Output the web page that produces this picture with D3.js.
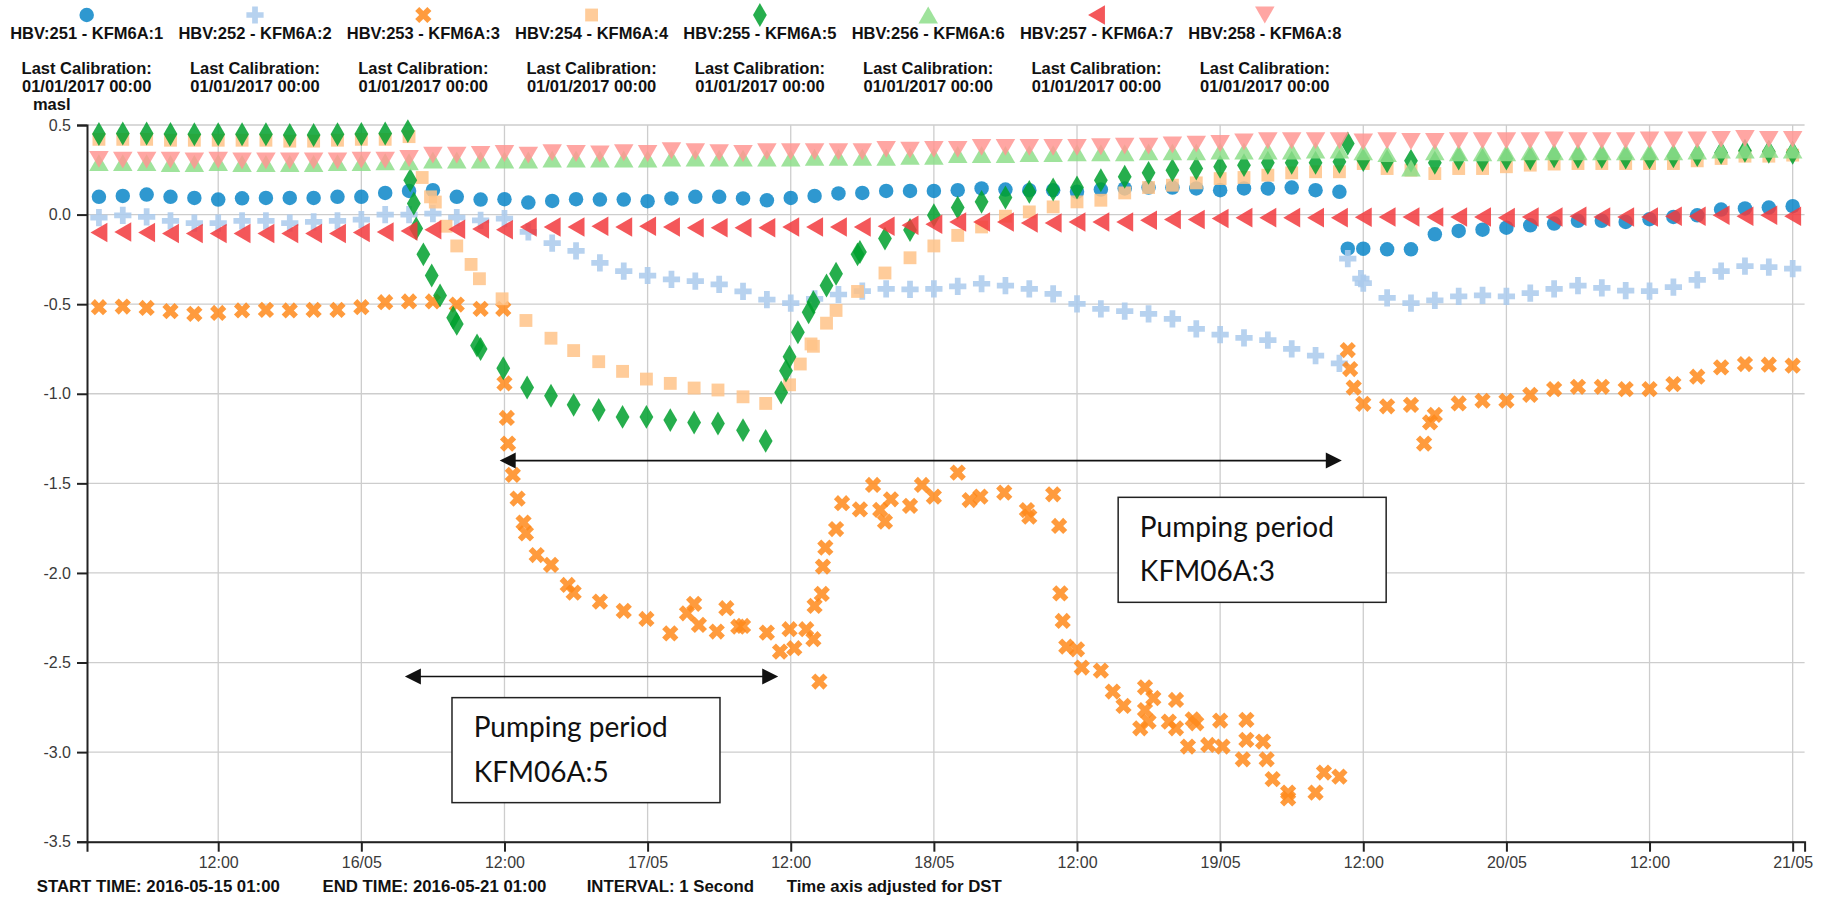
<!doctype html>
<html>
<head>
<script src="https://cdnjs.cloudflare.com/ajax/libs/d3/7.8.5/d3.min.js"></script>
<style>
  body { margin: 0; background: #fff; }
  svg { display: block; font-family: "Liberation Sans", Arial, sans-serif; }
  .grid line { stroke: #cdcdcd; stroke-width: 1.3; }
  .axis path, .axis line { stroke: #222; stroke-width: 2; }
  .axis text { fill: #3a3a3a; font-size: 16px; font-family: "Liberation Sans", Arial, sans-serif; }
  .legend text, .unit { font-weight: bold; font-size: 16.5px; fill: #111; }
  .footer text { font-weight: bold; font-size: 16.8px; fill: #111; }
  .note rect { fill: #fff; stroke: #222; stroke-width: 1.5; }
  .note text { font-family: Lato, "Open Sans", sans-serif; font-size: 28px; fill: #111; }
</style>
</head>
<body>
<svg width="1831" height="901"></svg>
<script>
// time axis: hours after the start time
const startTime = new Date(2016, 4, 15, 1, 0);
const endTime = new Date(2016, 4, 21, 1, 0);

const seriesNames = ["HBV:251 - KFM6A:1", "HBV:252 - KFM6A:2", "HBV:253 - KFM6A:3", "HBV:254 - KFM6A:4",
                     "HBV:255 - KFM6A:5", "HBV:256 - KFM6A:6", "HBV:257 - KFM6A:7", "HBV:258 - KFM6A:8"];
const calibration = "01/01/2017 00:00";
const yTicks = [-3.5, -3.0, -2.5, -2.0, -1.5, -1.0, -0.5, 0.0, 0.5];
const footer = ["START TIME: 2016-05-15 01:00", "END TIME: 2016-05-21 01:00", "INTERVAL: 1 Second", "Time axis adjusted for DST"];

// regular samples, every 2 hours
const hours = [1, 3, 5, 7, 9, 11, 13, 15, 17, 19, 21, 23,
               25, 27, 29, 31, 33, 35, 37, 39, 41, 43, 45, 47,
               49, 51, 53, 55, 57, 59, 61, 63, 65, 67, 69, 71,
               73, 75, 77, 79, 81, 83, 85, 87, 89, 91, 93, 95,
               97, 99, 101, 103, 105, 107, 109, 111, 113, 115, 117, 119,
               121, 123, 125, 127, 129, 131, 133, 135, 137, 139, 141, 143];

const kfm1 = [0.099, 0.104, 0.112, 0.099, 0.093, 0.084, 0.091, 0.093, 0.093, 0.093, 0.099, 0.099,
              0.121, 0.132, 0.136, 0.099, 0.084, 0.086, 0.067, 0.076, 0.086, 0.084, 0.084, 0.075,
              0.090, 0.099, 0.099, 0.090, 0.080, 0.093, 0.104, 0.118, 0.121, 0.132, 0.132, 0.132,
              0.136, 0.146, 0.140, 0.136, 0.136, 0.127, 0.140, 0.146, 0.151, 0.151, 0.146, 0.136,
              0.146, 0.146, 0.151, 0.136, 0.127, -0.190, -0.194, -0.194, -0.110, -0.091, -0.084, -0.073,
              -0.060, -0.050, -0.035, -0.035, -0.041, -0.026, -0.013, -0.004, 0.028, 0.034, 0.039, 0.047];
const kfm1Extra = [[105.7, -0.190]];

const kfm2 = [-0.017, -0.004, -0.013, -0.035, -0.047, -0.047, -0.035, -0.035, -0.047, -0.041, -0.035, -0.028,
              0.000, 0.000, 0.006, -0.017, -0.032, -0.022, -0.097, -0.159, -0.203, -0.269, -0.315, -0.340,
              -0.362, -0.371, -0.390, -0.429, -0.474, -0.494, -0.470, -0.446, -0.427, -0.414, -0.418, -0.414,
              -0.401, -0.386, -0.396, -0.414, -0.442, -0.498, -0.526, -0.539, -0.554, -0.582, -0.638, -0.670,
              -0.688, -0.700, -0.750, -0.787, -0.830, -0.382, -0.465, -0.494, -0.479, -0.457, -0.451, -0.457,
              -0.438, -0.414, -0.396, -0.409, -0.424, -0.427, -0.405, -0.364, -0.315, -0.287, -0.293, -0.302];
const kfm2Extra = [[105.7, -0.246], [106.8, -0.358]];

const kfm3 = [-0.517, -0.513, -0.521, -0.539, -0.554, -0.549, -0.535, -0.532, -0.535, -0.532, -0.532, -0.517,
              -0.489, -0.485, -0.485, -0.502, -0.526, null, null, null, null, null, null, null,
              null, null, null, null, null, null, null, null, null, null, null, null,
              null, null, null, null, null, null, null, null, null, null, null, null,
              null, null, null, null, null, -1.056, -1.070, -1.062, -1.118, -1.054, -1.039, -1.039,
              -1.006, -0.974, -0.961, -0.961, -0.974, -0.974, -0.946, -0.905, -0.853, -0.834, -0.838, -0.843];
// denser readings during the pumping tests
const kfm3Extra = [[34.9, -0.526], [35.0, -0.942], [35.2, -1.135], [35.3, -1.278], [35.7, -1.453], [36.1, -1.585],
  [36.6, -1.719], [36.8, -1.779], [37.7, -1.900], [38.9, -1.955], [40.3, -2.067], [40.8, -2.110], [43.0, -2.160],
  [45.0, -2.212], [46.9, -2.257], [48.9, -2.337], [50.3, -2.225], [50.9, -2.173], [51.3, -2.290], [52.8, -2.327],
  [53.6, -2.197], [54.6, -2.300], [55.0, -2.296], [57.0, -2.333], [58.1, -2.439], [58.9, -2.314], [59.3, -2.420],
  [60.3, -2.314], [60.9, -2.370], [61.0, -2.184], [61.4, -2.606], [61.6, -2.117], [61.7, -1.965], [61.9, -1.859],
  [62.8, -1.755], [63.3, -1.611], [64.8, -1.645], [65.9, -1.509], [66.5, -1.648], [66.9, -1.714], [67.4, -1.589],
  [69.0, -1.626], [70.0, -1.509], [71.0, -1.574], [73.0, -1.440], [74.0, -1.593], [74.9, -1.574], [76.9, -1.552],
  [78.8, -1.649], [79.0, -1.686], [81.0, -1.561], [81.5, -1.738], [81.6, -2.114], [81.8, -2.268], [82.1, -2.411],
  [83.0, -2.426], [83.4, -2.528], [85.0, -2.545], [86.0, -2.662], [86.9, -2.742], [88.3, -2.867], [88.7, -2.638],
  [88.7, -2.765], [89.0, -2.830], [89.4, -2.699], [90.7, -2.830], [91.3, -2.867], [91.3, -2.709], [92.3, -2.969],
  [92.7, -2.817], [93.0, -2.839], [94.0, -2.960], [95.0, -2.824], [95.2, -2.969], [96.9, -3.040], [97.2, -2.820],
  [97.2, -2.932], [98.6, -2.941], [98.9, -3.040], [99.4, -3.151], [100.7, -3.226], [100.7, -3.258], [103.0, -3.226],
  [103.7, -3.114], [105.0, -3.137], [105.7, -0.756], [105.9, -0.862], [106.2, -0.966], [112.1, -1.278], [112.6, -1.160]];

const kfm4 = [0.420, 0.420, 0.420, 0.415, 0.415, 0.415, 0.415, 0.415, 0.410, 0.410, 0.415, 0.420,
              0.420, 0.435, null, null, null, null, null, null, null, null, null, null,
              null, null, null, null, null, null, null, null, null, null, null, -0.175,
              -0.116, -0.069, -0.009, 0.015, 0.043, 0.071, 0.080, 0.121, 0.151, 0.164, 0.177, 0.201,
              0.207, 0.220, 0.233, 0.239, 0.239, 0.285, 0.257, 0.248, 0.229, 0.257, 0.257, 0.267,
              0.276, 0.282, 0.285, 0.285, 0.285, 0.285, 0.285, 0.300, 0.313, 0.326, 0.326, 0.332];
const kfm4Extra = [[28.1, 0.207], [28.8, 0.099], [29.2, 0.070], [30.1, -0.065], [31.0, -0.175], [32.2, -0.278],
  [32.9, -0.358], [34.8, -0.470], [36.8, -0.591], [38.9, -0.690], [40.8, -0.759], [42.9, -0.821], [44.9, -0.875],
  [46.9, -0.918], [48.9, -0.942], [50.9, -0.968], [52.9, -0.979], [55.0, -1.017], [56.9, -1.054], [58.9, -0.950],
  [59.8, -0.834], [60.7, -0.722], [60.9, -0.735], [62.0, -0.606], [62.8, -0.535], [64.6, -0.429], [66.9, -0.326],
  [69.0, -0.241]];

const kfm5 = [0.450, 0.453, 0.453, 0.450, 0.448, 0.448, 0.448, 0.448, 0.444, 0.444, 0.448, 0.450,
              0.453, null, null, null, null, null, null, null, null, null, null, null,
              null, null, null, null, null, null, null, null, null, null, null, -0.004,
              0.039, 0.071, 0.095, 0.127, 0.140, 0.151, 0.192, 0.211, 0.233, 0.248, 0.257, 0.267,
              0.276, 0.289, 0.289, 0.289, 0.295, 0.304, 0.298, 0.300, 0.289, 0.313, 0.304, 0.313,
              0.313, 0.326, 0.323, 0.323, 0.319, 0.319, 0.326, 0.332, 0.345, 0.356, 0.351, 0.345];
const kfm5Extra = [[26.9, 0.466], [27.1, 0.192], [27.4, 0.062], [27.6, -0.078], [28.2, -0.222], [28.9, -0.340],
  [29.6, -0.451], [30.7, -0.576], [31.0, -0.610], [32.7, -0.731], [33.0, -0.750], [34.9, -0.858], [36.9, -0.965],
  [38.9, -1.011], [40.8, -1.062], [42.9, -1.091], [44.9, -1.129], [46.9, -1.129], [48.9, -1.147], [50.9, -1.160],
  [52.9, -1.166], [55.0, -1.203], [56.9, -1.263], [58.2, -0.993], [58.6, -0.871], [58.9, -0.793], [59.6, -0.657],
  [60.5, -0.545], [60.9, -0.489], [62.0, -0.396], [62.8, -0.330], [64.6, -0.222], [64.8, -0.209], [66.9, -0.134],
  [69.0, -0.086], [105.7, 0.397]];

const kfm6 = [0.290, 0.290, 0.290, 0.285, 0.285, 0.290, 0.285, 0.285, 0.285, 0.285, 0.290, 0.290,
              0.295, 0.295, 0.305, 0.305, 0.305, 0.305, 0.305, 0.310, 0.310, 0.310, 0.310, 0.310,
              0.315, 0.315, 0.315, 0.315, 0.315, 0.315, 0.320, 0.320, 0.320, 0.320, 0.325, 0.325,
              0.335, 0.335, 0.335, 0.340, 0.340, 0.345, 0.345, 0.345, 0.350, 0.350, 0.350, 0.355,
              0.355, 0.355, 0.355, 0.360, 0.360, 0.350, 0.340, 0.260, 0.350, 0.345, 0.345, 0.345,
              0.350, 0.350, 0.350, 0.350, 0.350, 0.350, 0.350, 0.355, 0.360, 0.360, 0.365, 0.360];

const kfm7 = [-0.100, -0.097, -0.100, -0.106, -0.106, -0.106, -0.106, -0.106, -0.106, -0.106, -0.106, -0.100,
              -0.097, -0.091, -0.084, -0.082, -0.080, -0.084, -0.069, -0.069, -0.069, -0.065, -0.069, -0.065,
              -0.069, -0.073, -0.073, -0.073, -0.073, -0.069, -0.069, -0.069, -0.069, -0.065, -0.060, -0.054,
              -0.041, -0.041, -0.041, -0.047, -0.047, -0.041, -0.041, -0.041, -0.032, -0.028, -0.028, -0.022,
              -0.017, -0.017, -0.017, -0.017, -0.017, -0.015, -0.013, -0.013, -0.013, -0.013, -0.013, -0.017,
              -0.013, -0.013, -0.009, -0.013, -0.013, -0.013, -0.009, -0.009, -0.004, -0.009, -0.004, -0.009];

const kfm8 = [0.308, 0.304, 0.304, 0.304, 0.300, 0.304, 0.300, 0.300, 0.300, 0.300, 0.300, 0.304,
              0.304, 0.313, 0.332, 0.332, 0.336, 0.341, 0.332, 0.345, 0.341, 0.338, 0.345, 0.341,
              0.356, 0.351, 0.345, 0.341, 0.351, 0.351, 0.351, 0.351, 0.351, 0.364, 0.360, 0.364,
              0.364, 0.375, 0.375, 0.375, 0.375, 0.375, 0.379, 0.382, 0.382, 0.388, 0.393, 0.397,
              0.406, 0.412, 0.412, 0.412, 0.412, 0.406, 0.412, 0.408, 0.408, 0.412, 0.412, 0.412,
              0.412, 0.416, 0.412, 0.412, 0.412, 0.416, 0.416, 0.416, 0.420, 0.425, 0.420, 0.420];

// pumping period annotations (hours after start, masl)
const arrows = [{ from: 34.6, to: 105.2, level: -1.373 }, { from: 26.65, to: 57.95, level: -2.578 }];
const notes = [{ at: 86.45, top: -1.578, lines: ["Pumping period", "KFM06A:3"] },
               { at: 30.6, top: -2.696, lines: ["Pumping period", "KFM06A:5"] }];

const values = [kfm1, kfm2, kfm3, kfm4, kfm5, kfm6, kfm7, kfm8];
const extras = [kfm1Extra, kfm2Extra, kfm3Extra, kfm4Extra, kfm5Extra, [], [], []];
const shapes = ["circle", "cross", "x", "square", "diamond", "triangle-up", "triangle-left", "triangle-down"];
const colors = ["#0a86c8", "#aacaec", "#ff891b", "#ffc388", "#00a02e", "#8ede8b", "#f2393d", "#ff9793"];

const svg = d3.select("svg");
const plotLeft = 87, plotRight = 1804.6, plotTop = 125, plotBottom = 841.7;
const at = h => new Date(startTime.getTime() + h * 36e5);
const x = d3.scaleTime().domain([startTime, endTime]).range([plotLeft, plotRight]);
const y = d3.scaleLinear().domain([-3.5, 0.5]).range([plotBottom, plotTop]);
const xTicks = d3.timeHour.every(12).range(startTime, endTime);
const fmtDay = d3.timeFormat("%d/%m");
const fmtX = d => d.getHours() === 12 ? "12:00" : fmtDay(d);

// v3-style symbol shapes
const tan30 = Math.tan(Math.PI / 6), sqrt3 = Math.sqrt(3);
function symbol(type, size) {
  if (type === "circle") {
    const r = Math.sqrt(size / Math.PI);
    return `M0,${-r}A${r},${r} 0 1,1 0,${r}A${r},${r} 0 1,1 0,${-r}Z`;
  }
  if (type === "cross" || type === "x") {
    const r = Math.sqrt(size / 5) / 2;
    return `M${-3 * r},${-r}H${-r}V${-3 * r}H${r}V${-r}H${3 * r}V${r}H${r}V${3 * r}H${-r}V${r}H${-3 * r}Z`;
  }
  if (type === "square") {
    const r = Math.sqrt(size) / 2;
    return `M${-r},${-r}H${r}V${r}H${-r}Z`;
  }
  if (type === "diamond") {
    const ry = Math.sqrt(size / (2 * tan30)), rx = ry * tan30;
    return `M0,${-ry}L${rx},0 0,${ry} ${-rx},0Z`;
  }
  const rx = Math.sqrt(size / sqrt3), ry = rx * sqrt3 / 2;
  if (type === "triangle-up") return `M0,${-ry}L${rx},${ry} ${-rx},${ry}Z`;
  if (type === "triangle-down") return `M0,${ry}L${rx},${-ry} ${-rx},${-ry}Z`;
  return `M${-ry},0L${ry},${-rx} ${ry},${rx}Z`;
}
const symSize = 165;
const place = (shape, px, py) => `translate(${px},${py})` + (shape === "x" ? " rotate(45)" : "");

// grid
const grid = svg.append("g").attr("class", "grid");
grid.selectAll(".h").data(yTicks).join("line")
  .attr("x1", plotLeft).attr("x2", plotRight).attr("y1", d => y(d)).attr("y2", d => y(d));
grid.selectAll(".v").data(xTicks).join("line")
  .attr("y1", plotTop).attr("y2", plotBottom).attr("x1", d => x(d)).attr("x2", d => x(d));

// points
values.forEach((vals, i) => {
  const pts = hours.map((h, j) => [h, vals[j]]).filter(p => p[1] !== null).concat(extras[i]);
  svg.append("g")
    .attr("fill", colors[i]).attr("fill-opacity", 0.85)
    .selectAll("path").data(pts).join("path")
    .attr("d", symbol(shapes[i], symSize))
    .attr("transform", d => place(shapes[i], x(at(d[0])), y(d[1])));
});

// axes
svg.append("g").attr("class", "axis").attr("transform", `translate(0,${plotBottom})`)
  .call(d3.axisBottom(x).tickValues(xTicks).tickFormat(fmtX).tickSizeInner(10).tickSizeOuter(10).tickPadding(5));
svg.append("g").attr("class", "axis").attr("transform", `translate(${plotLeft},0)`)
  .call(d3.axisLeft(y).tickValues(yTicks).tickFormat(d => d.toFixed(1)).tickSizeInner(10).tickSizeOuter(10).tickPadding(6));
svg.selectAll(".axis .domain").attr("fill", "none");

svg.append("text").attr("class", "unit").attr("x", 51.7).attr("y", 109.7)
  .attr("text-anchor", "middle").text("masl");

// legend
const legend = svg.append("g").attr("class", "legend");
seriesNames.forEach((name, i) => {
  const cx = 86.7 + 168.3 * i;
  const g = legend.append("g").attr("text-anchor", "middle");
  g.append("path").attr("d", symbol(shapes[i], symSize)).attr("fill", colors[i]).attr("fill-opacity", 0.85)
    .attr("transform", place(shapes[i], cx, 15));
  g.append("text").attr("x", cx).attr("y", 39).text(name);
  g.append("text").attr("x", cx).attr("y", 74).text("Last Calibration:");
  g.append("text").attr("x", cx).attr("y", 91.7).text(calibration);
});

// footer
const footerX = [36.7, 322.5, 586.7, 786.7];
svg.append("g").attr("class", "footer").selectAll("text").data(footer).join("text")
  .attr("x", (d, i) => footerX[i]).attr("y", 892.3).text(d => d);

// annotations
const ann = svg.append("g");
arrows.forEach(a => {
  const x1 = x(at(a.from)), x2 = x(at(a.to)), ay = y(a.level);
  ann.append("line").attr("x1", x1 + 8).attr("x2", x2 - 8).attr("y1", ay).attr("y2", ay)
    .attr("stroke", "#111").attr("stroke-width", 1.6);
  ann.append("path").attr("fill", "#111")
    .attr("d", `M${x1},${ay}L${x1 + 16},${ay - 8}L${x1 + 16},${ay + 8}Z M${x2},${ay}L${x2 - 16},${ay - 8}L${x2 - 16},${ay + 8}Z`);
});
notes.forEach(n => {
  const g = ann.append("g").attr("class", "note")
    .attr("transform", `translate(${x(at(n.at))},${y(n.top)})`);
  g.append("rect").attr("width", 268).attr("height", 105);
  g.append("text").attr("x", 21.7).attr("y", 39.4).text(n.lines[0]);
  g.append("text").attr("x", 21.7).attr("y", 84).text(n.lines[1]);
});
</script>
</body>
</html>
